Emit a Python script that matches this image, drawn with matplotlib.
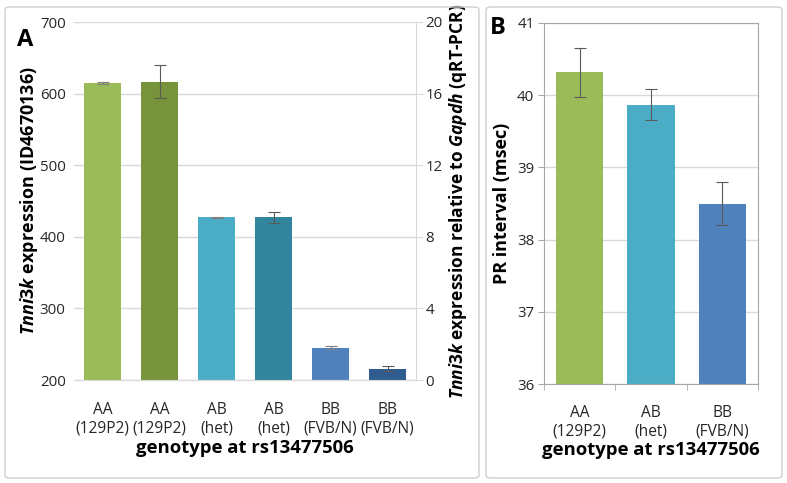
import matplotlib
matplotlib.use("Agg")
import matplotlib.pyplot as plt
import numpy as np
from matplotlib.patches import FancyBboxPatch

plt.rcParams['font.family'] = ['Open Sans', 'DejaVu Sans']
plt.rcParams['mathtext.fontset'] = 'custom'
plt.rcParams['mathtext.it'] = 'Open Sans:italic:bold'
plt.rcParams['mathtext.rm'] = 'Open Sans:bold'

# Panel A data
etiquetas_a = ["AA\n(129P2)", "AA\n(129P2)", "AB\n(het)", "AB\n(het)", "BB\n(FVB/N)", "BB\n(FVB/N)"]
# microarray (left axis), bars 1, 3, 5
micro_vals = [615, 427, 245]
micro_err = [1.5, 1.0, 2.0]
# qRT-PCR relative to Gapdh (right axis), bars 2, 4, 6
qpcr_vals = [16.66, 9.08, 0.64]
qpcr_err = [0.92, 0.30, 0.12]
colores_a = ['#9BBB59', '#77933C', '#4BACC6', '#31859C', '#4F81BD', '#2F5D90']

# Panel B data
etiquetas_b = ["AA\n(129P2)", "AB\n(het)", "BB\n(FVB/N)"]
pr_vals = [40.32, 39.87, 38.50]
pr_err = [0.34, 0.22, 0.30]
colores_b = ['#9BBB59', '#4BACC6', '#4F81BD']

gris = '#D9D9D9'
texto = '#262626'

fig = plt.figure(figsize=(7.87, 4.83), dpi=100)

# marcos de los paneles
for x0, x1 in [(5, 479), (486, 782)]:
    caja = FancyBboxPatch((x0 / 787, 5 / 483), (x1 - x0) / 787, 471 / 483,
                          boxstyle="round,pad=0,rounding_size=0.006",
                          transform=fig.transFigure, fill=False,
                          edgecolor='#CFCFCF', linewidth=1.0)
    fig.patches.append(caja)

# ---------------- Panel A ----------------
ax1 = fig.add_axes([74 / 787, 1 - 380 / 483, 342 / 787, 358 / 483])
ax2 = ax1.twinx()

x = np.arange(len(etiquetas_a))
ancho = 0.66
ax1.bar(x[0::2], micro_vals, width=ancho, color=colores_a[0::2], zorder=2,
        yerr=micro_err, error_kw=dict(ecolor='#7F7F7F', elinewidth=0.8, capsize=4, capthick=0.8))
ax2.bar(x[1::2], qpcr_vals, width=ancho, color=colores_a[1::2], zorder=2,
        yerr=qpcr_err, error_kw=dict(ecolor='#5A5A5A', elinewidth=0.8, capsize=4, capthick=0.8))

ax1.set_ylim(200, 700)
ax1.set_yticks([200, 300, 400, 500, 600, 700])
ax2.set_ylim(0, 20)
ax2.set_yticks([0, 4, 8, 12, 16, 20])
ax1.set_xlim(-0.5, 5.5)
ax1.set_xticks(x)
ax1.set_xticklabels(etiquetas_a, fontsize=11.2, color=texto, linespacing=1.2)
ax1.yaxis.grid(True, color=gris, linewidth=1.0, zorder=0)
ax1.set_axisbelow(True)
ax1.tick_params(axis='y', length=0, labelsize=10.8, labelcolor=texto, pad=6)
ax1.tick_params(axis='x', length=0, pad=16)
ax2.tick_params(axis='y', length=5, color=gris, labelsize=10.8, labelcolor=texto, pad=2)
for ax in (ax1, ax2):
    for s in ['top', 'left']:
        ax.spines[s].set_visible(False)
    ax.spines['bottom'].set_color(gris)
    ax.spines['right'].set_color(gris)
ax1.spines['right'].set_visible(False)

ax1.set_ylabel(r"$Tnni3k$ expression (ID4670136)", fontsize=13, fontweight='bold', labelpad=0)
ax2.set_ylabel(r"$Tnni3k$ expression relative to $Gapdh$ (qRT-PCR)", fontsize=12.5,
               fontweight='bold', labelpad=3)
ax1.set_xlabel("genotype at rs13477506", fontsize=13.3, fontweight='bold', labelpad=2)
fig.text(17 / 787, 1 - 40 / 483, "A", fontsize=17, fontweight='bold', va='center')

# ---------------- Panel B ----------------
ax3 = fig.add_axes([544 / 787, 1 - 384 / 483, 214 / 787, 361 / 483])
xb = np.arange(len(etiquetas_b))
ax3.bar(xb, pr_vals, width=0.66, color=colores_b, zorder=2,
        yerr=pr_err, error_kw=dict(ecolor='#5A5A5A', elinewidth=0.8, capsize=4, capthick=0.8))
ax3.set_ylim(36, 41)
ax3.set_xlim(-0.5, 2.5)
ax3.set_yticks([36, 37, 38, 39, 40, 41])
ax3.set_xticks(xb)
ax3.set_xticklabels(etiquetas_b, fontsize=11.2, color=texto, linespacing=1.2)
ax3.set_xticks([-0.5, 0.5, 1.5, 2.5], minor=True)
ax3.tick_params(axis='x', which='major', length=0, pad=15)
ax3.tick_params(axis='x', which='minor', length=4, color='#A6A6A6')
ax3.tick_params(axis='y', length=4, color='#A6A6A6', labelsize=10.8, labelcolor=texto, pad=3)
ax3.yaxis.grid(True, color=gris, linewidth=1.0, zorder=0)
ax3.set_axisbelow(True)
for s in ax3.spines.values():
    s.set_color('#A6A6A6')
ax3.set_ylabel("PR interval (msec)", fontsize=13, fontweight='bold', labelpad=4)
ax3.set_xlabel("genotype at rs13477506", fontsize=13.3, fontweight='bold', labelpad=1)
fig.text(490 / 787, 1 - 28 / 483, "B", fontsize=17, fontweight='bold', va='center')

fig.savefig("out.png", dpi=100)
